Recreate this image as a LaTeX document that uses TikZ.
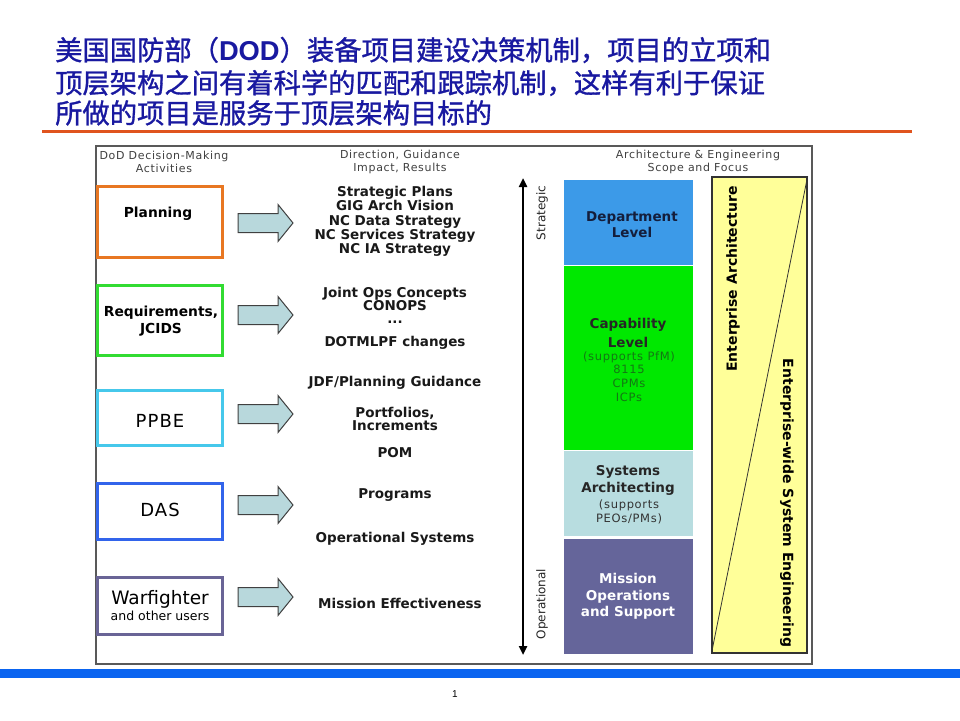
\documentclass[tikz,border=0pt]{standalone}
\usepackage{fontspec}
\setmainfont{DejaVu Sans}
\newfontfamily\cjk[FakeBold=1.1]{Noto Sans CJK SC}
\newfontfamily\lib{Liberation Sans}
\newfontfamily\dvs[LetterSpace=6]{DejaVu Sans}
\usetikzlibrary{arrows.meta}
\definecolor{titleblue}{RGB}{25,25,160}
\definecolor{rule}{RGB}{224,84,30}
\definecolor{barblue}{RGB}{10,100,240}
\definecolor{cplan}{RGB}{232,119,34}
\definecolor{creq}{RGB}{50,220,50}
\definecolor{cppbe}{RGB}{70,200,235}
\definecolor{cdas}{RGB}{50,100,235}
\definecolor{cwar}{RGB}{105,100,150}
\definecolor{arrfill}{RGB}{184,216,220}
\definecolor{cdept}{RGB}{60,154,232}
\definecolor{ccap}{RGB}{0,232,0}
\definecolor{csys}{RGB}{184,221,224}
\definecolor{cmis}{RGB}{101,101,154}
\definecolor{ylw}{RGB}{255,255,153}
\definecolor{capsmall}{RGB}{20,120,20}
\definecolor{navy}{RGB}{20,30,60}
\tikzset{
  actbox/.style={draw=#1, line width=3pt, minimum width=125pt, inner sep=0pt},
  res/.style={font=\bfseries\fontsize{13.5}{14.3}\selectfont, align=center, text=black!90, inner sep=1pt},
  hdr/.style={font=\dvs\fontsize{11}{13}\selectfont, align=center, text=black!75},
  lvl/.style={fill=#1, draw=white, line width=0.8pt, minimum width=130pt, inner sep=0pt},
  lvltxt/.style={font=\bfseries\fontsize{13.5}{16.5}\selectfont, align=center},
  smalltxt/.style={font=\dvs\fontsize{11.5}{13.7}\selectfont, align=center},
  ttl/.style={font=\cjk\fontsize{27.3}{30}\selectfont, text=titleblue, anchor=west, inner sep=0pt},
  barrow/.pic={\draw[draw=black!75, fill=arrfill, line width=1pt]
     (0,-9.5) -- (40,-9.5) -- (40,-18.5) -- (55,0) -- (40,18.5) -- (40,9.5) -- (0,9.5) -- cycle;}
}
\begin{document}
\begin{tikzpicture}[x=1pt,y=-1pt]
\useasboundingbox (0,0) rectangle (960,720);
\fill[white] (0,0) rectangle (960,720);
% title
\node[ttl] (t1) at (55,50) {美国国防部（{\lib\bfseries DOD}）装备项目建设决策机制，项目的立项和};
\node[ttl] (t2) at (55,83) {顶层架构之间有着科学的匹配和跟踪机制，这样有利于保证};
\node[ttl] (t3) at (55,113) {所做的项目是服务于顶层架构目标的};
\coordinate (rl) at (42,131);
\coordinate (rr) at (912,131);
\draw[rule, line width=3pt] (rl) -- (rr);
% frame
\node[draw=black!65, line width=1.2pt, minimum width=716pt, minimum height=518pt, inner sep=0pt] (frame) at (454,405) {};
% headers
\node[hdr] (h1) at (164,161.5) {DoD Decision-Making\\Activities};
\node[hdr] (h2) at (400,161.5) {Direction, Guidance\\Impact, Results};
\node[hdr] (h3) at (698,161.5) {Architecture \& Engineering\\Scope and Focus};
% activity boxes
\node[actbox=cplan, minimum height=71pt] (plan) at (159.5,221.5) {};
\node[font=\bfseries\fontsize{13.8}{14}\selectfont] (plantx) at (158,214) {Planning};
\node[actbox=creq, minimum height=70pt] (req) at (159.5,320) {};
\node[font=\bfseries\fontsize{13.8}{17}\selectfont, align=center] (reqtx) at (161,321.5) {Requirements,\\JCIDS};
\node[actbox=cppbe, minimum height=55pt] (ppbe) at (159.5,417.5) {};
\node[font=\dvs\fontsize{18}{20}\selectfont] (ppbetx) at (160,421) {PPBE};
\node[actbox=cdas, minimum height=56pt] (das) at (159.5,511) {};
\node[font=\dvs\fontsize{18}{20}\selectfont] (dastx) at (160,510) {DAS};
\node[actbox=cwar, minimum height=57pt] (war) at (159.5,605.5) {};
\node[font=\fontsize{18.5}{18}\selectfont, inner sep=0pt] (wartx) at (160,599.5) {Warfighter};
\node[font=\fontsize{12.5}{12}\selectfont, inner sep=0pt] (wartx2) at (160,616) {and other users};
% block arrows
\pic at (238,223) {barrow};
\pic at (238,315) {barrow};
\pic at (238,414) {barrow};
\pic at (238,505) {barrow};
\pic at (238,597) {barrow};
% results
\node[res] (r1) at (395,221.5) {Strategic Plans\\GIG Arch Vision\\NC Data Strategy\\NC Services Strategy\\NC IA Strategy};
\node[res, font=\bfseries\fontsize{13.5}{13}\selectfont, inner sep=0pt] (r2) at (395,298.5) {Joint Ops Concepts\\CONOPS};
\node[res, inner sep=0pt] (r3) at (395,322) {...};
\node[res] (r4) at (395,343) {DOTMLPF changes};
\node[res] (r5) at (395,383) {JDF/Planning Guidance};
\node[res, font=\bfseries\fontsize{13.5}{13}\selectfont] (r6) at (395,418.5) {Portfolios,\\Increments};
\node[res] (r7) at (395,453) {POM};
\node[res] (r8) at (395,495) {Programs};
\node[res] (r9) at (395,539) {Operational Systems};
\node[res] (r10) at (400,603) {Mission Effectiveness};
% vertical arrow
\coordinate (vtop) at (523,178);
\coordinate (vbot) at (523,655);
\draw[line width=2.5pt, {Triangle[length=9pt,width=8pt]}-{Triangle[length=9pt,width=8pt]}] (vtop) -- (vbot);
\node[rotate=90, font=\fontsize{12}{13}\selectfont, text=black!85] (strat) at (542,213) {Strategic};
\node[rotate=90, font=\fontsize{12}{13}\selectfont, text=black!85] (oper) at (542,604) {Operational};
% levels
\node[lvl=cdept, minimum height=86pt] (dept) at (628,222) {};
\node[lvltxt, text=navy] (depttx) at (632,224.5) {Department\\Level};
\node[lvl=ccap, minimum height=185pt] (cap) at (628,357.5) {};
\node[lvltxt, font=\bfseries\fontsize{13.5}{19}\selectfont, text=black!85] (captx) at (628,332.5) {Capability\\Level};
\node[smalltxt, text=capsmall] (capsm) at (629,376.5) {(supports PfM)\\8115\\CPMs\\ICPs};
\node[lvl=csys, minimum height=86pt] (sys) at (628,493) {};
\node[lvltxt, font=\bfseries\fontsize{13.5}{17}\selectfont, text=black!85] (systx) at (628,480.5) {Systems\\Architecting};
\node[smalltxt, font=\dvs\fontsize{11.5}{14}\selectfont, text=black!80] (syssm) at (629,512) {(supports\\PEOs/PMs)};
\node[lvl=cmis, minimum height=116pt] (mis) at (628,596) {};
\node[lvltxt, text=white] (mistx) at (628,596.5) {Mission\\Operations\\and Support};
% enterprise box
\node[draw=black!80, fill=ylw, line width=1.2pt, minimum width=95pt, minimum height=476pt, inner sep=0pt] (ea) at (759.5,415) {};
\draw[black!80, line width=0.8pt] (ea.south west) -- (ea.north east);
\node[rotate=90, font=\bfseries\fontsize{14}{16}\selectfont] (eatx) at (733,279) {Enterprise Architecture};
\node[rotate=-90, font=\bfseries\fontsize{14}{16}\selectfont] (esetx) at (787,503) {Enterprise-wide System Engineering};
% footer
\coordinate (bl) at (0,673.5);
\coordinate (br) at (960,673.5);
\draw[barblue, line width=9pt] (bl) -- (br);
\node[font=\lib\fontsize{10}{12}\selectfont] (pg) at (455,694) {1};
\end{tikzpicture}
\end{document}
